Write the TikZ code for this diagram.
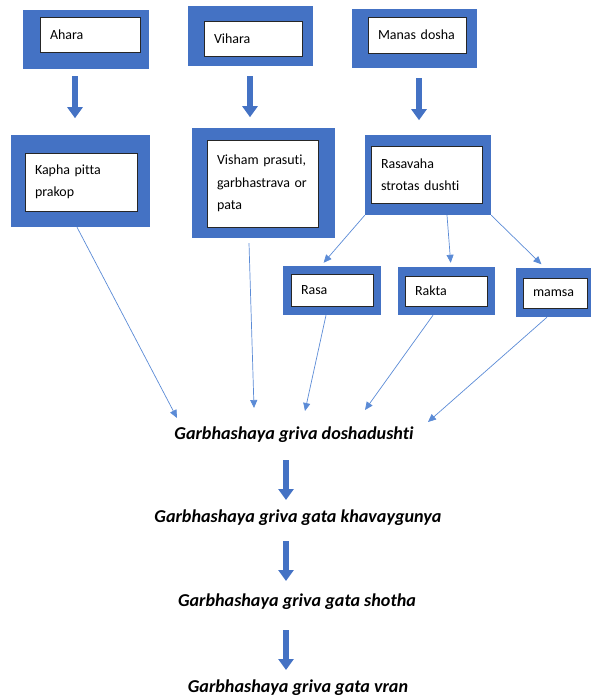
\documentclass[tikz,border=0pt]{standalone}
\usepackage{fontspec}
\setmainfont{Carlito}[Ligatures=NoCommon]
\usetikzlibrary{arrows.meta}
\definecolor{boxblue}{HTML}{4472C4}
\definecolor{linkblue}{HTML}{5B8BD6}

\begin{document}
\begin{tikzpicture}[x=1bp,y=-1bp,
	outer/.style={rectangle,fill=boxblue,inner sep=0pt},
	inner/.style={rectangle,fill=white,draw=black!85,line width=0.8bp,
		inner xsep=10bp,inner ysep=0pt,align=left,
		font=\fontsize{14}{22.5}\selectfont},
	stage/.style={inner sep=1bp,font=\fontsize{18.2}{20}\selectfont\bfseries\itshape},
	bigarrow/.style={draw=boxblue,line width=6.5bp,-{Triangle[width=15bp,length=11bp]}},
	link/.style={draw=linkblue,line width=0.7bp,-{Triangle[width=7bp,length=8bp]}}]
	\clip (0,0) rectangle (591,698);

	% first row
	\node[outer,minimum width=126bp,minimum height=59bp] (aharaO) at (86,39.5) {};
	\node[inner,text width=80bp,minimum height=35bp] (ahara) at (90,34.5) {Ahara};
	\node[outer,minimum width=125bp,minimum height=60bp] (viharaO) at (250.5,36) {};
	\node[inner,text width=78bp,minimum height=35bp] (vihara) at (253,38.5) {Vihara};
	\node[outer,minimum width=125bp,minimum height=59bp] (manasO) at (414.5,38.5) {};
	\node[inner,text width=78bp,minimum height=36bp] (manas) at (417,35) {Manas dosha};

	% second row
	\node[outer,minimum width=139bp,minimum height=92bp] (kaphaO) at (80.5,181) {};
	\node[inner,text width=92bp,minimum height=58bp] (kapha) at (81,182) {Kapha pitta\\prakop};
	\node[outer,minimum width=143bp,minimum height=110bp] (vishamO) at (263.5,183) {};
	\node[inner,text width=91bp,minimum height=87bp] (visham) at (262.5,183.5)
		{Visham prasuti,\\garbhastrava or\\pata};
	\node[outer,minimum width=126bp,minimum height=80bp] (rasavahaO) at (428,175) {};
	\node[inner,text width=91bp,minimum height=57bp] (rasavaha) at (426.5,174.5)
		{Rasavaha\\strotas dushti};

	% dhatu
	\node[outer,minimum width=98bp,minimum height=49bp] (rasaO) at (332,290.5) {};
	\node[inner,text width=62bp,minimum height=32bp] (rasa) at (332,290) {Rasa};
	\node[outer,minimum width=97bp,minimum height=48bp] (raktaO) at (446.5,291) {};
	\node[inner,text width=62bp,minimum height=30bp] (rakta) at (446,291) {Rakta};
	\node[outer,minimum width=80bp,minimum height=49bp] (mamsaO) at (556,292.5) {};
	\node[inner,text width=44bp,minimum height=30bp] (mamsa) at (555,293) {mamsa};

	% stages
	\node[stage] (dosha) at (294,435) {Garbhashaya griva doshadushti};
	\node[stage] (khava) at (298,518) {Garbhashaya griva gata khavaygunya};
	\node[stage] (shotha) at (297,602) {Garbhashaya griva gata shotha};
	\node[stage] (vran) at (298,688) {Garbhashaya griva gata vran};

	\draw[bigarrow] ([xshift=-11bp]aharaO.south) ++(0,7) -- ++(0,42);
	\draw[bigarrow] ([xshift=-0.5bp]viharaO.south) ++(0,10) -- ++(0,41);
	\draw[bigarrow] ([xshift=4.5bp]manasO.south) ++(0,10) -- ++(0,42);

	\draw[link,shorten >=4bp] (rasavahaO.south west) -- ([xshift=-11bp]rasaO.north);
	\draw[link,shorten >=4bp] ([xshift=19bp]rasavahaO.south) -- ([xshift=4.5bp]raktaO.north);
	\draw[link,shorten >=5bp] (rasavahaO.south east) -- ([xshift=-11bp]mamsaO.north);

	\draw[link] ([xshift=-3.5bp]kaphaO.south) -- ([shift={(-117,-17)}]dosha.center);
	\draw[link] ([shift={(-14.5,5)}]vishamO.south) -- ([shift={(-40,-27)}]dosha.center);
	\draw[link] ([xshift=-6bp]rasaO.south) -- ([shift={(11,-24)}]dosha.center);
	\draw[link] ([xshift=-13.5bp]raktaO.south) -- ([shift={(71,-25)}]dosha.center);
	\draw[link] ([xshift=-9bp]mamsaO.south) -- ([shift={(134,-13)}]dosha.center);

	\draw[bigarrow] ([xshift=-8bp]dosha.center) ++(0,25) -- ++(0,40);
	\draw[bigarrow] ([xshift=-12bp]khava.center) ++(0,23) -- ++(0,40);
	\draw[bigarrow] ([xshift=-11bp]shotha.center) ++(0,28) -- ++(0,40);
%	\draw[bigarrow] (shotha) -- (vran);
\end{tikzpicture}
\end{document}
